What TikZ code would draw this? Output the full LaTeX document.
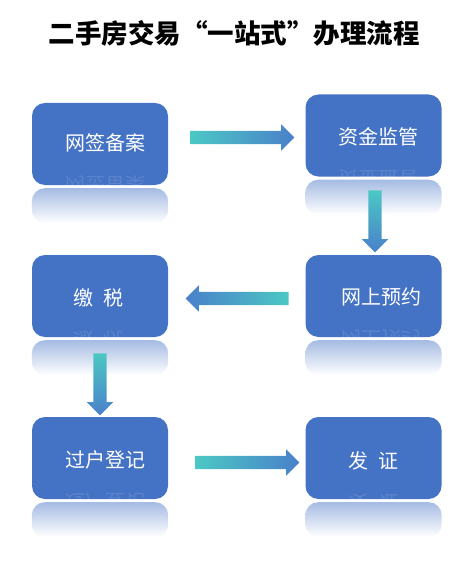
\documentclass[tikz,border=0pt]{standalone}
\usepackage{fontspec}
\usetikzlibrary{shapes.arrows,calc}
\newfontfamily\song{Noto Sans CJK SC}
\definecolor{boxblue}{HTML}{4472C4}
\definecolor{arrteal}{HTML}{4BC8C4}
\definecolor{arrblue}{HTML}{4A80CA}
\tikzset{
  stepbox/.style={fill=boxblue,rounded corners=13pt,minimum width=136pt,minimum height=82pt,inner sep=0pt},
  steptext/.style={text=white,inner sep=0pt,font=\song\fontsize{20}{20}\selectfont},
  mirrortext/.style={steptext,yscale=-1,transform shape,opacity=.12},
  reflect/.style={top color=boxblue!48,bottom color=white,rounded corners=13pt},
  flowarrow/.style={single arrow,draw=none,inner xsep=0pt,inner ysep=6.5pt,
    single arrow head extend=6.5pt,single arrow head indent=0pt},
  downarrow/.style={flowarrow,inner xsep=6.5pt,inner ysep=0pt,shape border rotate=270,
    minimum height=62pt,top color=arrteal,bottom color=arrblue},
}
\begin{document}
\begin{tikzpicture}[x=1pt,y=-1pt]
    \useasboundingbox (0,0) rectangle (474,572);
    \node[font=\song\bfseries\fontsize{26.5}{26.5}\selectfont] (title) at (234,33) {二手房交易“一站式”办理流程};
    % boxes
    \node[stepbox] (wq) at (100,144) {};
    \node[stepbox] (zj) at (373.5,135.5) {};
    \node[stepbox] (yy) at (373.5,296) {};
    \node[stepbox] (js) at (100,296) {};
    \node[stepbox] (gh) at (100,458) {};
    \node[stepbox] (fz) at (373.5,458) {};
    % reflections
    \foreach \b in {wq,zj,yy,js,gh,fz}
        \shade[reflect] ($(\b.south west)+(0,3)$) rectangle ($(\b.south east)+(0,38)$);
    % labels
    \node[steptext] (wqt) at ($(wq)+(5,-1)$) {网签备案};
    \node[steptext] (zjt) at ($(zj)+(4.5,1.5)$) {资金监管};
    \node[steptext] (yyt) at ($(yy)+(7.5,1)$) {网上预约};
    \node[steptext] (jst) at ($(js)+(-2,2)$) {缴\hspace{.5em}税};
    \node[steptext] (ght) at ($(gh)+(5,2)$) {过户登记};
    \node[steptext] (fzt) at ($(fz)+(0,3)$) {发\hspace{.5em}证};
    \foreach \b/\t in {wq/网签备案,zj/资金监管,yy/网上预约,js/缴\hspace{.5em}税,gh/过户登记,fz/发\hspace{.5em}证} {
        \begin{scope}
            \clip[rounded corners=13pt] (\b.south west) rectangle (\b.north east);
            \node[mirrortext] at ($(\b t)+(0,42)$) {\t};
        \end{scope}
    }
    % arrows
    \node[flowarrow,minimum height=104pt,left color=arrteal,right color=arrblue] (a1) at (239,137.5) {};
    \node[downarrow] (a2) at (375,218) {};
    \node[flowarrow,minimum height=103pt,shape border rotate=180,left color=arrblue,right color=arrteal] (a3) at (240.5,298.5) {};
    \node[downarrow] (a4) at (100,381) {};
    \node[flowarrow,minimum height=104pt,left color=arrteal,right color=arrblue] (a5) at (244,462.5) {};
\end{tikzpicture}
\end{document}
